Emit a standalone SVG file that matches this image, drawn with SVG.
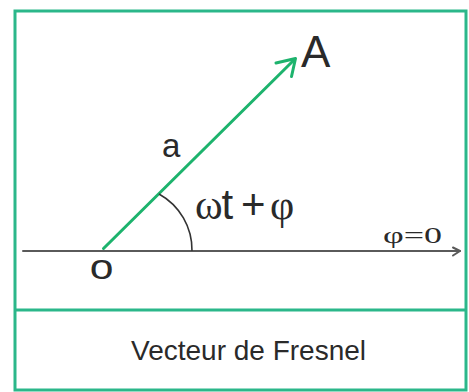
<svg xmlns="http://www.w3.org/2000/svg" width="469" height="392" viewBox="0 0 469 392">
<style>
.frame{fill:none;stroke:#2bb78a;stroke-width:3}
.axis{fill:none;stroke:#5a5a5a;stroke-width:2;stroke-linecap:round;stroke-linejoin:round}
.vec{fill:none;stroke:#1db36d;stroke-width:3;stroke-linecap:round;stroke-linejoin:round}
.arc{fill:none;stroke:#333;stroke-width:1.6}
.sans{font-family:"Liberation Sans",Arial,sans-serif;fill:#2a2a2a}
.serif{font-family:"Liberation Serif","Times New Roman",serif;fill:#2a2a2a}
</style>
<rect width="469" height="392" fill="#ffffff"/>
<g id="frame">
<rect class="frame" x="15" y="11" width="451" height="379"/>
<line class="frame" x1="15" y1="310" x2="466" y2="310"/>
</g>
<g id="connectors">
<g id="axis">
<line class="axis" x1="23" y1="251" x2="460" y2="251"/>
<polyline class="axis" points="453,247.5 460,251 453,255.5"/>
</g>
<g id="vector">
<line class="vec" x1="103.5" y1="248.5" x2="294.5" y2="59.5"/>
<polyline class="vec" points="276,63 295.5,58.5 291.5,76.5"/>
</g>
<path id="angle" class="arc" d="M159,194 A64,64 0 0 1 192,251"/>
</g>
<g id="label-A"><text class="sans" x="301" y="67" font-size="44">A</text></g>
<g id="label-a"><text class="sans" x="162" y="157" font-size="33">a</text></g>
<g id="label-o"><text class="sans" font-size="35" text-anchor="middle" transform="translate(101.7,278.5) scale(1.22,1)">o</text></g>
<g id="label-angle">
<text font-size="42" y="219"><tspan class="serif" x="195">ω</tspan><tspan class="sans" x="221.5">t</tspan><tspan class="sans" x="241">+</tspan><tspan class="serif" x="270">φ</tspan></text>
</g>
<g id="label-phi0"><text class="serif" x="383" y="243" font-size="24" textLength="59" lengthAdjust="spacingAndGlyphs">φ=0</text></g>
<g id="caption"><text class="sans" x="131" y="360" font-size="28" fill="#333">Vecteur de Fresnel</text></g>
</svg>
